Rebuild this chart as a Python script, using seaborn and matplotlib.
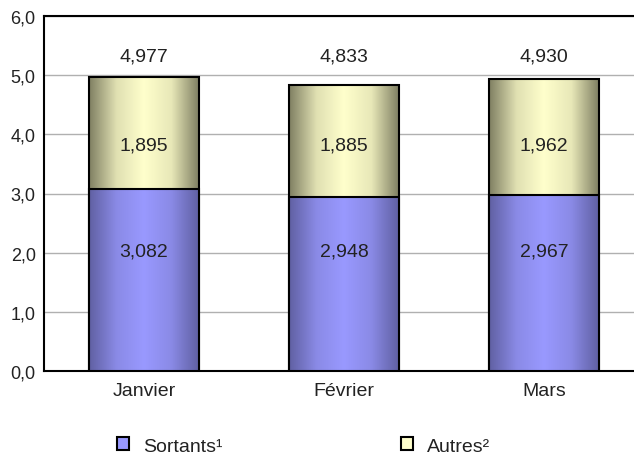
import pandas as pd
import matplotlib.pyplot as plt
import seaborn as sns
import numpy as np
from matplotlib.colors import LinearSegmentedColormap
from matplotlib.patches import Patch

mois = ['Janvier', 'Février', 'Mars']
sortants = [3.082, 2.948, 2.967]
autres = [1.895, 1.885, 1.962]
totaux = [4.977, 4.833, 4.930]
labels_sortants = ['3,082', '2,948', '2,967']
labels_autres = ['1,895', '1,885', '1,962']
labels_totaux = ['4,977', '4,833', '4,930']

data = pd.DataFrame({'mois': mois, 'sortants': sortants,
                     'autres': autres, 'total': totaux})

sns.set_style('white')
plt.rcParams['font.family'] = ['Liberation Sans', 'DejaVu Sans']
txt = '#222222'

fig = plt.figure(figsize=(6.34, 4.56), dpi=100)
ax = fig.add_axes([44 / 634, 1 - 372 / 456, 600 / 634, 355 / 456])

sns.barplot(data=data, x='mois', y='total', color='#FFFFCC', width=0.55,
            edgecolor='black', linewidth=1.5, ax=ax, zorder=2)
sns.barplot(data=data, x='mois', y='sortants', color='#9999FF', width=0.55,
            edgecolor='black', linewidth=1.5, ax=ax, zorder=3)

# degrade horizontal : sombre sur les bords, clair au centre
cmaps = {
    '#FFFFCC': LinearSegmentedColormap.from_list(
        'jaune', ['#7F7F62', '#E0E0B2', '#FFFFCC', '#E8E8B8', '#7F7F62']),
    '#9999FF': LinearSegmentedColormap.from_list(
        'bleu', ['#6060A2', '#8A8AE6', '#9999FF', '#8A8AE6', '#6060A2']),
}
grad = np.linspace(0, 1, 256).reshape(1, -1)
for i, p in enumerate(ax.patches):
    key = '#FFFFCC' if i < 3 else '#9999FF'
    x0, y0 = p.get_x(), p.get_y()
    x1, y1 = x0 + p.get_width(), y0 + p.get_height()
    z = p.get_zorder()
    ax.imshow(grad, extent=[x0, x1, y0, y1], cmap=cmaps[key],
              aspect='auto', zorder=z, clip_path=p, interpolation='bilinear')
    p.set_facecolor('none')
    p.set_zorder(z + 0.5)

ax.set_xlim(-0.5, 2.5)
ax.set_ylim(0, 6)
ax.set_yticks(np.arange(0, 7, 1))
ax.set_yticklabels([f'{v:.1f}'.replace('.', ',') for v in range(7)])
ax.yaxis.grid(True, color='#B0B0B0', linewidth=1)
ax.set_axisbelow(True)
ax.tick_params(axis='both', length=0, colors=txt)
ax.tick_params(axis='x', pad=8, labelsize=14)
ax.tick_params(axis='y', pad=6, labelsize=13)
ax.set_xlabel('')
ax.set_ylabel('')
for side in ['left', 'bottom', 'top']:
    ax.spines[side].set_visible(True)
    ax.spines[side].set_color('black')
    ax.spines[side].set_linewidth(1.5)
ax.spines['right'].set_visible(False)

for i in range(len(mois)):
    ax.text(i, 5.25, labels_totaux[i], ha='center', va='baseline', fontsize=14, color=txt)
    ax.text(i, 3.75, labels_autres[i], ha='center', va='baseline', fontsize=14, color=txt)
    ax.text(i, 1.95, labels_sortants[i], ha='center', va='baseline', fontsize=14, color=txt)

handles = [Patch(facecolor='#9999FF', edgecolor='black', linewidth=1.5),
           Patch(facecolor='#FFFFCC', edgecolor='black', linewidth=1.5)]
leg = fig.legend(handles, ['Sortants¹', 'Autres²'], ncol=2, loc='center left',
                 bbox_to_anchor=(117 / 634, 1 - 447 / 456), frameon=False,
                 fontsize=14, handlelength=0.62, handleheight=0.62,
                 columnspacing=9.2, handletextpad=0.7, borderpad=0,
                 borderaxespad=0)
for t in leg.get_texts():
    t.set_color(txt)

plt.savefig('out.png', dpi=100)
